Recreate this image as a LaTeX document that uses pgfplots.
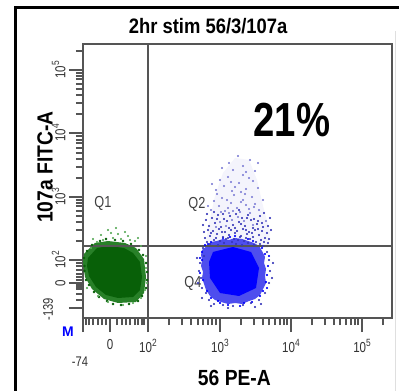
\documentclass[border=0pt]{standalone}
\usepackage{fontspec}
\setmainfont{Liberation Sans}
\newfontfamily\narrow{Liberation Sans}[FakeStretch=0.8]
\newfontfamily\semi{Liberation Sans}[FakeStretch=0.88]
\usepackage{pgfplots}
\pgfplotsset{compat=1.18}
\definecolor{gateGray}{RGB}{85,85,85}
\definecolor{gOut}{RGB}{40,128,40}
\definecolor{gIn}{RGB}{8,96,8}
\definecolor{gDot}{RGB}{90,170,90}
\definecolor{bOut}{RGB}{78,78,238}
\definecolor{bIn}{RGB}{0,0,255}
\definecolor{bDot}{RGB}{55,55,185}
\definecolor{bLight}{RGB}{130,130,215}
\definecolor{bHaze}{RGB}{244,244,252}
\newcommand\tp[1]{10\raisebox{0.8ex}{\fontsize{10.5}{10.5}\selectfont #1}}
\begin{document}
\begin{tikzpicture}
\useasboundingbox (0,0) rectangle (399bp,391bp);
\fill[white] (0,0) rectangle (399bp,391bp);
\draw[line width=3bp] (15bp,0) -- (15bp,383.5bp) -- (399bp,383.5bp);
\draw[gray!25, line width=1bp] (395bp,0) -- (395bp,360bp);
\begin{axis}[
  at={(83bp,73bp)}, anchor=south west,
  scale only axis, width=309bp, height=274bp,
  xmin=0, xmax=309, ymin=0, ymax=274,
  axis line style={draw=gateGray, line width=1.3bp},
  tick align=outside, xtick pos=bottom, ytick pos=left,
  xtick={0,27,65,137,208,279},
  xticklabels={,0,\tp2,\tp3,\tp4,\tp5},
  ytick={10,35,58,121,185,248},
  yticklabels={,0,\tp2,\tp3,\tp4,\tp5},
  minor xtick={3,6,10,15,19,23,34,39,43,47,52,55,59,61,86,99,108,115,120,125,129,133,158,171,180,186,192,197,201,204,229,242,251,257,263,268,272,275,300},
  minor ytick={18,24,29,31,33,38,41,44,48,52,55,77,88,96,102,107,112,115,118,140,151,159,165,170,175,178,182,204,215,223,229,234,239,242,245,267},
  major tick length=14bp, minor tick length=7bp,
  every tick/.style={draw=gateGray, line width=1.1bp},
  ticklabel style={font=\narrow\fontsize{14.5}{14.5}\selectfont, text=black!80},
  xticklabel style={yshift=-4bp},
  yticklabel style={rotate=90, anchor=south},
  title={2hr stim 56/3/107a},
  title style={font=\semi\bfseries\fontsize{21}{21}\selectfont, at={(axis description cs:0.405,1)}, anchor=base, yshift=5bp},
  xlabel={56 PE-A},
  xlabel style={font=\semi\bfseries\fontsize{22}{22}\selectfont, at={(axis description cs:0.49,0)}, anchor=center, yshift=-60bp},
  ylabel={107a FITC-A},
  ylabel style={font=\semi\bfseries\fontsize{22}{22}\selectfont, at={(axis description cs:-0.123,0.551)}, anchor=center},
  clip=false,
]
% Q2 haze
\addplot[fill=bHaze, draw=none] coordinates {(122,70) (126,95) (132,122) (140,145) (152,160) (166,158) (174,138) (180,112) (187,86) (185,70)} -- cycle;
% green population
\addplot[fill=gOut, draw=none] coordinates {(1,64) (12,75) (25,77) (42,75) (53,70) (61,59) (63,41) (61,25) (53,16) (35,15) (21,19) (9,29) (2,41) (0,55)} -- cycle;
\addplot[fill=gIn, draw=none] coordinates {(5,60) (14,70) (26,72) (41,70) (50,65) (57,56) (59,41) (57,28) (50,21) (35,20) (23,23) (13,31) (6,42) (4,52)} -- cycle;
\addplot[only marks, mark=*, mark size=1bp, gIn] coordinates {
(1,60) (4,67) (9,73) (17,77) (23,79) (32,78) (40,77) (48,74) (56,68) (60,63)
(63,55) (64,46) (64,38) (63,30) (59,22) (55,17) (46,14) (38,13) (30,14) (24,17)
(16,21) (11,26) (6,33) (3,38) (1.5,47) (1.5,52)};
\addplot[only marks, mark=*, mark size=0.8bp, gDot] coordinates {
(20,78) (30,80) (38,79) (45,82) (28,85) (52,77) (14,76) (35,84) (8,70) (58,72)
(63,50) (64,35) (63,62) (40,13) (25,16) (50,15) (15,22) (58,20) (4,30) (62,28)
(25,88) (42,86) (18,83) (55,80) (33,90) (47,78) (10,79)};
% blue population
\addplot[fill=bOut, draw=none] coordinates {(119,68) (124,72) (128,76) (134,77) (140,79) (146,78) (152,80) (159,79) (165,77) (171,75) (176,72) (179,67) (182,61) (181,55) (183,49) (182,42) (183,35) (180,29) (177,23) (172,19) (166,17) (159,14) (152,15) (145,14) (138,16) (132,18) (127,22) (123,28) (121,34) (119,40) (120,46) (118,52) (119,58) (118,63)} -- cycle;
\addplot[fill=bIn, draw=none] coordinates {(130,66) (150,71) (168,66) (176,50) (173,30) (156,22) (137,25) (127,40) (126,56)} -- cycle;
\addplot[only marks, mark=*, mark size=0.9bp, bIn] coordinates {
(117,60) (119,66) (122,73) (128,76) (140,80) (147,81) (165,79) (170,77) (179,70) (182,64)
(185,52) (184,43) (183,36) (180,27) (177,22) (169,16) (161,15) (145,13) (137,15) (128,20)
(124,27) (120,38) (117,45) (119,58) (125,74) (152,82) (186,62) (184,30) (135,17) (157,12)};
\addplot[only marks, mark=*, mark size=0.8bp, bDot] coordinates {
(118,40) (117,55) (119,30) (121,62) (116,47) (123,25) (126,18) (131,14) (140,13) (150,12)
(160,13) (168,15) (176,18) (182,25) (186,35) (187,47) (186,58) (184,66) (180,72) (120,70)
(185,75) (115,35) (189,40) (128,12) (145,10) (172,11) (178,14) (114,60) (190,55) (119,20)
(124,76) (131,78) (137,77) (143,79) (149,76) (155,78) (161,77) (167,79) (173,76) (178,78)
(127,82) (134,84) (140,81) (146,83) (152,85) (158,82) (164,84) (170,81) (176,83) (182,80)
(125,88) (130,87) (136,89) (142,86) (148,88) (154,87) (160,89) (166,86) (172,88) (179,87)
(133,80) (145,80) (157,81) (169,85) (139,86) (151,79) (163,80) (175,89) (128,85) (184,85)
(126,92) (132,95) (138,91) (144,97) (150,93) (156,96) (162,92) (168,98) (174,94) (180,91)
(129,100) (135,103) (141,99) (147,102) (153,104) (159,100) (165,103) (171,99) (177,102) (123,98)
(127,74) (135,73) (141,75) (153,74) (159,73) (165,75) (171,73) (177,74) (181,76) (122,80)
(186,79) (188,88) (185,92) (121,86) (120,93) (124,104) (131,106) (140,104) (156,108) (164,100)
(175,97) (181,105) (187,100) (179,95) (152,90) (158,94) (146,90) (134,99) (163,88) (170,90)};
\addplot[only marks, mark=*, mark size=0.8bp, bLight] coordinates {
(137,96) (149,98) (161,97) (170,93) (143,92) (155,101) (133,91) (167,105) (183,97) (146,105)
(128,108) (136,112) (142,107) (148,115) (154,110) (160,118) (166,109) (172,114) (139,120) (151,123)
(157,106) (163,113) (131,117) (145,110) (169,121) (176,108) (134,124) (158,116) (150,107) (180,118)
(125,112) (162,124) (144,118) (138,106) (171,111)
(133,128) (141,132) (149,127) (156,135) (163,129) (170,137) (145,141) (137,138) (160,143) (152,131)
(175,130) (129,134) (166,140) (148,136) (158,126)
(150,148) (160,152) (167,158) (146,155) (172,147) (155,162) (139,150) (163,146) (175,155)};
% gates
\draw[gateGray, line width=1.6bp] (axis cs:65,0) -- (axis cs:65,274);
\draw[gateGray, line width=1.6bp] (axis cs:0,72) -- (axis cs:309,72);
% quadrant names
\node[font=\narrow\fontsize{16}{16}\selectfont, text=black!75] at (axis cs:20,115) {Q1};
\node[font=\narrow\fontsize{16}{16}\selectfont, text=black!75] at (axis cs:114,114) {Q2};
\node[font=\narrow\fontsize{16}{16}\selectfont, text=black!75] at (axis cs:110,35) {Q4};
\node[font=\narrow\bfseries\fontsize{48}{48}\selectfont] at (axis cs:209,198) {21\%};
% scale end labels
\node[font=\narrow\fontsize{14}{14}\selectfont, text=black!80] at (axis cs:-3,-44) {-74};
\node[font=\narrow\fontsize{14}{14}\selectfont, text=black!80, rotate=90] at (axis cs:-35,9) {-139};
\node[font=\bfseries\fontsize{14}{14}\selectfont, text=blue] at (axis cs:-15,-14) {M};
\end{axis}
\end{tikzpicture}
\end{document}
